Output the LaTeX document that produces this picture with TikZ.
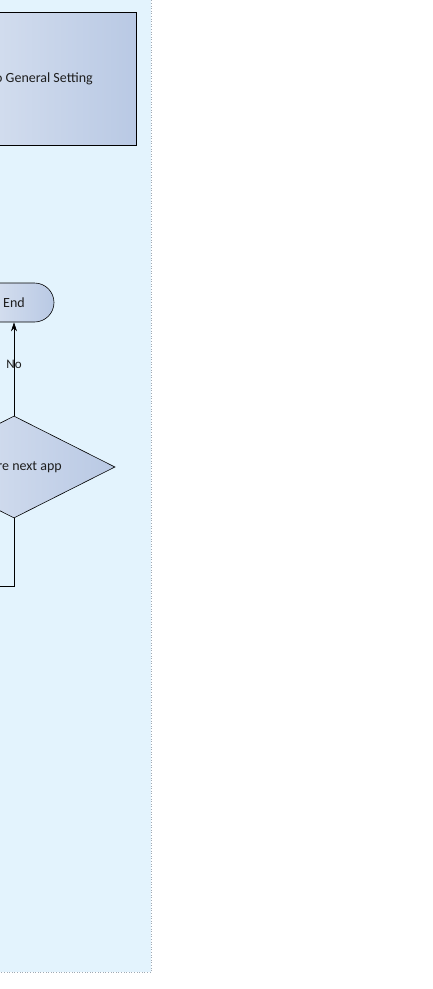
\documentclass[tikz,border=0pt]{standalone}
\usepackage{fontspec}
\setmainfont{Carlito}
\usetikzlibrary{shapes.geometric,arrows.meta}
\definecolor{lanefill}{RGB}{227,243,253}
\definecolor{laneline}{RGB}{160,170,180}
\definecolor{boxlight}{RGB}{222,230,243}
\definecolor{boxdark}{RGB}{185,201,228}
\definecolor{txt}{RGB}{30,30,30}
\tikzset{
  shadedbox/.style={draw=black, line width=0.6pt, left color=boxlight, right color=boxdark, text=txt, font=\fontsize{14}{16}\selectfont, inner sep=0pt},
  procbox/.style={shadedbox, rectangle, minimum width=208pt, minimum height=133pt},
  termbox/.style={shadedbox, rectangle, rounded corners=19.5pt, minimum width=80pt, minimum height=39pt},
  decbox/.style={shadedbox, diamond, aspect=2, minimum width=202pt, minimum height=102pt},
  conn/.style={draw=black, line width=0.6pt},
  lbl/.style={text=txt, font=\fontsize{13}{15}\selectfont, inner sep=1pt}
}
\begin{document}
\begin{tikzpicture}[x=1pt,y=-1pt]
\useasboundingbox (0,0) rectangle (433,989);
\fill[white] (0,0) rectangle (433,989);
\clip (0,0) rectangle (433,989);
% lane
\fill[lanefill] (-10,-10) rectangle (151,972);
\draw[laneline, dotted, line width=0.6pt] (151,-10) -- (151,972) -- (-10,972);
% nodes
\node[procbox] (gen) at (32,78.5) {Go to General Setting};
\node[termbox] (end) at (14,302.5) {End};
\node[decbox] (dec) at (14,467) {Is there next app};
\coordinate (out) at (-10,586);
% connectors
\draw[conn, -{Stealth[length=9pt,width=6pt]}] (dec.north) -- node[lbl, pos=0.55] {No} (end.south);
\draw[conn] (dec.south) |- (out);
\end{tikzpicture}
\end{document}
